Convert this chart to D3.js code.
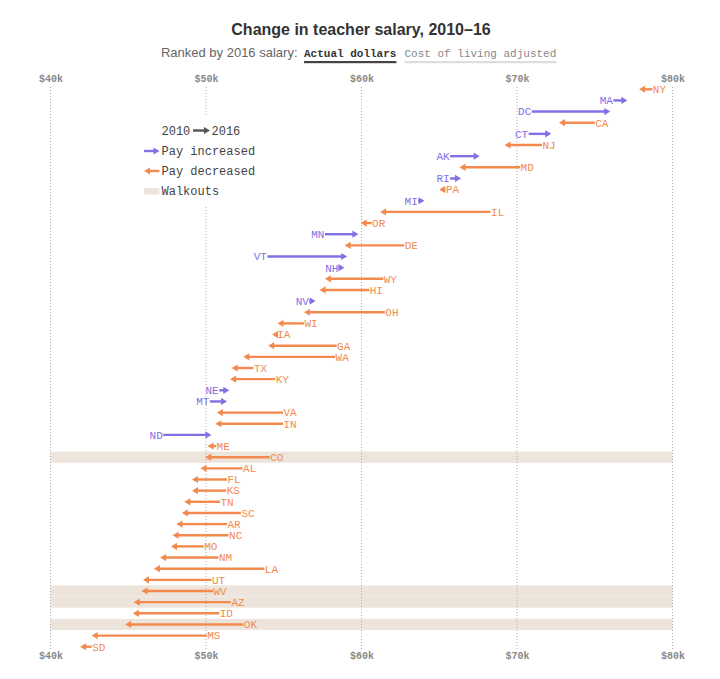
<!DOCTYPE html>
<html>
<head>
<meta charset="utf-8">
<script src="https://cdn.jsdelivr.net/npm/d3@7"></script>
<style>
  html, body { margin: 0; padding: 0; background: #fff; }
  svg { display: block; }
  .mono { font-family: "Courier New", "Liberation Mono", monospace; }
  .sans { font-family: "Helvetica Neue", Helvetica, Arial, "Liberation Sans", sans-serif; }
</style>
</head>
<body>
<svg id="chart" width="720" height="679"></svg>
<script>
// ---- data (thousands of dollars) ----
const states = ["NY","MA","DC","CA","CT","NJ","AK","MD","RI","PA","MI","IL","OR","MN","DE","VT","NH","WY","HI","NV","OH","WI","IA","GA","WA","TX","KY","NE","MT","VA","IN","ND","ME","CO","AL","FL","KS","TN","SC","AR","NC","MO","NM","LA","UT","WV","AZ","ID","OK","MS","SD"];
const salary2010 = [78.7,76.2,70.95,75.0,70.75,71.6,65.7,70.2,65.7,65.4,63.65,68.3,60.65,57.65,62.75,53.95,58.55,61.4,60.5,56.65,61.5,56.3,54.55,58.4,58.3,53.05,54.45,50.85,50.25,54.95,54.95,47.25,50.65,54.1,52.35,51.35,51.3,50.9,52.25,51.35,51.45,49.85,50.8,53.75,50.35,50.45,51.6,50.85,52.4,50.05,42.65];
const salary2016 = [77.85,77.1,76.0,72.7,72.2,69.2,67.6,66.3,66.4,65.0,64.05,61.2,59.95,59.8,58.92,59.08,58.9,57.65,57.3,57.05,56.3,54.6,54.25,54.0,52.4,51.65,51.55,51.5,51.35,50.7,50.6,50.35,50.1,49.95,49.65,49.1,49.1,48.6,48.45,48.1,47.85,47.75,47.05,46.65,45.95,45.85,45.35,45.3,44.8,42.65,41.9];
const walkouts = ["CO","WV","AZ","OK"];
const xTicks = [40,50,60,70,80];
const legendItems = ["Pay increased","Pay decreased","Walkouts"];

const colorUp = "#8270e4";
const colorDown = "#f28a4e";
const bandColor = "#ede5db";

const svg = d3.select("#chart");
const x = d3.scaleLinear().domain([40, 80]).range([50.5, 672.5]);
const y = d3.scaleBand().domain(states).range([83.7, 652.3]).padding(0);

const rows = states.map((s, i) => ({ state: s, v0: salary2010[i], v1: salary2016[i] }));

// walkout bands
svg.append("g").selectAll("rect")
  .data(rows.filter(d => walkouts.includes(d.state)))
  .join("rect")
  .attr("x", x(40)).attr("width", x(80) - x(40))
  .attr("y", d => y(d.state)).attr("height", y.bandwidth())
  .attr("fill", bandColor);

// gridlines
svg.append("g").selectAll("line")
  .data(xTicks).join("line")
  .attr("x1", d => x(d)).attr("x2", d => x(d))
  .attr("y1", 87).attr("y2", 650)
  .attr("stroke", "#aaa").attr("stroke-width", 1)
  .attr("stroke-dasharray", "1,2");

// tick labels top & bottom
const fmt = d => "$" + d + "k";
[ [d3.axisTop(x), 84], [d3.axisBottom(x), 648] ].forEach(([ax, ty]) => {
  const g = svg.append("g").attr("transform", `translate(0,${ty})`)
    .call(ax.tickValues(xTicks).tickFormat(fmt).tickSize(0).tickPadding(ty < 100 ? 2 : 4));
  g.select(".domain").remove();
  g.selectAll("text").attr("class", "mono")
    .style("font-family", '"Courier New", "Liberation Mono", monospace')
    .attr("font-size", 10).attr("font-weight", "bold").attr("fill", "#888");
});

// legend background (masks gridlines)
svg.append("rect").attr("x", 138).attr("y", 115).attr("width", 110).attr("height", 90).attr("fill", "#fff");

// arrows
function arrow(g, x1, x2, yy, color) {
  const dir = x2 >= x1 ? 1 : -1;
  const head = 6, hw = 3.6;
  const lineEnd = x2 - dir * (head - 1);
  if ((lineEnd - x1) * dir > 0) {
    g.append("line").attr("x1", x1).attr("x2", lineEnd).attr("y1", yy).attr("y2", yy)
      .attr("stroke", color).attr("stroke-width", 2.4);
  }
  g.append("path")
    .attr("d", `M${x2},${yy}L${x2 - dir * head},${yy - hw}L${x2 - dir * head},${yy + hw}Z`)
    .attr("fill", color);
}

const gArrows = svg.append("g");
rows.forEach(d => {
  const up = d.v1 >= d.v0;
  const col = up ? colorUp : colorDown;
  const yy = y(d.state) + y.bandwidth() / 2;
  arrow(gArrows, x(d.v0), x(d.v1), yy, col);
  gArrows.append("text").attr("class", "mono")
    .attr("x", x(d.v0) + (up ? -0.5 : 0.5))
    .attr("y", yy).attr("dy", "0.35em")
    .attr("text-anchor", up ? "end" : "start")
    .attr("font-size", 11).attr("fill", col)
    .text(d.state);
});

// legend
const lg = svg.append("g");
lg.append("text").attr("class", "mono").attr("x", 161.5).attr("y", 130.5).attr("dy", "0.35em")
  .attr("font-size", 12).attr("fill", "#444").text("2010");
arrow(lg, 193, 210, 130.5, "#555");
lg.append("text").attr("class", "mono").attr("x", 211.5).attr("y", 130.5).attr("dy", "0.35em")
  .attr("font-size", 12).attr("fill", "#444").text("2016");
arrow(lg, 144, 159.5, 151, colorUp);
arrow(lg, 159.5, 144, 171, colorDown);
lg.append("rect").attr("x", 144).attr("y", 188).attr("width", 15.5).attr("height", 6.5).attr("fill", bandColor);
lg.selectAll("text.item").data(legendItems).join("text")
  .attr("class", "mono item").attr("x", 161.5).attr("y", (d, i) => 151 + i * 20).attr("dy", "0.35em")
  .attr("font-size", 12).attr("fill", "#444").text(d => d);

// title
svg.append("text").attr("class", "sans").attr("x", 361).attr("y", 35)
  .attr("text-anchor", "middle").attr("font-size", 16).attr("font-weight", "bold")
  .attr("fill", "#333").text("Change in teacher salary, 2010–16");

// subtitle
svg.append("text").attr("class", "sans").attr("x", 297.5).attr("y", 57)
  .attr("text-anchor", "end").attr("font-size", 13).attr("fill", "#666")
  .text("Ranked by 2016 salary:");
const opt = [
  { label: "Actual dollars", x0: 304, color: "#333", weight: "bold", ul: "#444" },
  { label: "Cost of living adjusted", x0: 404.5, color: "#888", weight: "normal", ul: "#ddd" }
];
opt.forEach(o => {
  const t = svg.append("text").attr("class", "mono").attr("x", o.x0).attr("y", 56.5)
    .attr("font-size", 11).attr("font-weight", o.weight).attr("fill", o.color).text(o.label);
  const w = t.node().getComputedTextLength();
  svg.append("rect").attr("x", o.x0).attr("y", 61).attr("width", w).attr("height", 2.2).attr("fill", o.ul);
});
</script>
</body>
</html>
